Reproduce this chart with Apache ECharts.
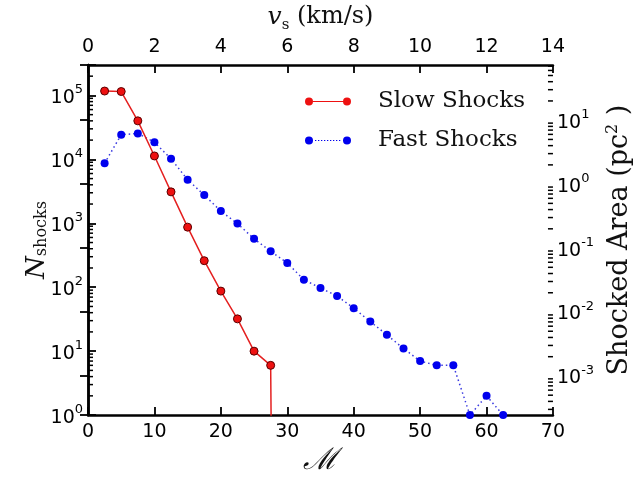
<!DOCTYPE html>
<html>
<head>
<meta charset="utf-8">
<script src="https://cdn.jsdelivr.net/npm/echarts@6/dist/echarts.min.js"></script>
<style>
html, body { margin: 0; padding: 0; background: #fff; }
#chart { width: 641px; height: 481px; }
</style>
</head>
<body>
<div id="chart"></div>
<script>
// Mach number bins and shock counts
var machSlow = [2.5, 5, 7.5, 10, 12.5, 15, 17.5, 20, 22.5, 25, 27.5, 30];
var slowCounts = [117000, 115000, 40000, 11300, 3100, 870, 260, 87, 32, 10, 6, 0];

var machFast = [2.5, 5, 7.5, 10, 12.5, 15, 17.5, 20, 22.5, 25, 27.5, 30, 32.5,
                35, 37.5, 40, 42.5, 45, 47.5, 50, 52.5, 55, 57.5, 60, 62.5];
var fastCounts = [8700, 24300, 25400, 18500, 10200, 4800, 2760, 1550, 990, 571, 365, 239, 131,
                  97, 73, 47, 29, 18, 11, 7, 6, 6, 1, 2, 1];

// axis limits
var machMin = 0, machMax = 70, machStep = 10;
var speedMin = 0, speedMax = 14, speedStep = 2;
var countMin = 1, countMax = 3e5;
var cellArea = 1 / (64 * 64);   // pc^2 per shock, right axis scale

var serif = 'DejaVu Serif';
var sans = 'DejaVu Sans';

function pairs(xs, ys) {
    return xs.map(function (x, i) {
        // a log axis has no zero: push it far below the floor so the line drops off
        return [x, ys[i] > 0 ? ys[i] : 1e-30];
    });
}

function powerLabel(v) {
    var l = Math.log10(v);
    var e = Math.round(l);
    if (Math.abs(l - e) > 1e-6) return '';
    return '{b|10}{s|' + e + '}';
}

var powerRich = {
    b: { fontFamily: sans, fontSize: 19, color: '#000', lineHeight: 24, verticalAlign: 'bottom' },
    s: { fontFamily: sans, fontSize: 13, color: '#000', lineHeight: 14, verticalAlign: 'top' }
};

// 2..9 x 10^n minor ticks, like matplotlib log axes
function minorValues(lo, hi) {
    var out = [];
    for (var n = -5; n <= 6; n++) {
        for (var k = 2; k <= 9; k++) {
            var v = k * Math.pow(10, n);
            if (v > lo && v < hi) out.push(v);
        }
    }
    return out;
}

function minorTickSeries(values, yIndex, atX, dir) {
    return {
        type: 'custom',
        xAxisIndex: 0,
        yAxisIndex: yIndex,
        silent: true,
        clip: false,
        z: 6,
        data: values.map(function (v) { return [atX, v]; }),
        renderItem: function (params, api) {
            var p = api.coord([api.value(0), api.value(1)]);
            return {
                type: 'line',
                shape: { x1: p[0], y1: p[1], x2: p[0] + dir * 5, y2: p[1] },
                style: { stroke: '#000', lineWidth: 1.5 }
            };
        }
    };
}

function circlePath(cx, cy, r) {
    return 'M' + (cx - r) + ',' + cy + 'a' + r + ',' + r + ' 0 1,0 ' + (2 * r) + ',0' +
           'a' + r + ',' + r + ' 0 1,0 ' + (-2 * r) + ',0Z';
}
var slowIcon = 'path://' + circlePath(4, 4, 4) + 'M8,3.4L38,3.4L38,4.6L8,4.6Z' + circlePath(42, 4, 4);
var fastIcon = 'path://' + circlePath(4, 4, 4);
for (var d = 10; d < 37; d += 3) {
    fastIcon += 'M' + d + ',3.4L' + (d + 1.3) + ',3.4L' + (d + 1.3) + ',4.6L' + d + ',4.6Z';
}
fastIcon += circlePath(42, 4, 4);

var frameLine = { show: true, lineStyle: { color: '#000', width: 2.5 } };
var majorTick = { show: true, inside: true, length: 8, lineStyle: { color: '#000', width: 1.8 } };

var option = {
    animation: false,
    backgroundColor: '#fff',
    grid: { left: 88, right: 88, top: 64, bottom: 60 },
    legend: {
        data: [
            { name: 'Slow Shocks', icon: slowIcon },
            { name: 'Fast Shocks', icon: fastIcon }
        ],
        orient: 'vertical',
        left: 300,
        top: 84,
        itemWidth: 46,
        itemHeight: 8,
        itemGap: 14,
        itemStyle: { borderWidth: 0 },
        textStyle: { fontFamily: serif, fontSize: 23, color: '#111', lineHeight: 25, padding: [0, 0, 0, 22] }
    },
    xAxis: [
        {
            type: 'value', position: 'bottom',
            min: machMin, max: machMax, interval: machStep,
            name: '\u2133', nameLocation: 'middle', nameGap: 30,
            nameTextStyle: { fontFamily: serif, fontSize: 30, fontStyle: 'italic', color: '#111' },
            axisLine: frameLine, axisTick: majorTick,
            axisLabel: { fontFamily: sans, fontSize: 19, color: '#000', margin: 7 },
            splitLine: { show: false }
        },
        {
            type: 'value', position: 'top',
            min: speedMin, max: speedMax, interval: speedStep,
            name: '{v|v}{s|s}{t| (km/s)}', nameLocation: 'middle', nameGap: 28,
            nameTextStyle: {
                rich: {
                    v: { fontFamily: serif, fontStyle: 'italic', fontSize: 25, color: '#111', lineHeight: 28, verticalAlign: 'top' },
                    s: { fontFamily: serif, fontSize: 15, color: '#111', lineHeight: 15, verticalAlign: 'bottom' },
                    t: { fontFamily: serif, fontSize: 24, color: '#111', lineHeight: 28, verticalAlign: 'top' }
                }
            },
            axisLine: frameLine, axisTick: majorTick,
            axisLabel: { fontFamily: sans, fontSize: 19, color: '#000', margin: 8 },
            splitLine: { show: false }
        }
    ],
    yAxis: [
        {
            type: 'log', logBase: 10, position: 'left',
            min: countMin, max: countMax,
            name: '{n|N}{s|shocks}', nameLocation: 'middle', nameRotate: 90, nameGap: 38,
            nameMoveOverlap: false,
            nameTextStyle: {
                rich: {
                    n: { fontFamily: serif, fontStyle: 'italic', fontSize: 26, color: '#111', lineHeight: 26, verticalAlign: 'top' },
                    s: { fontFamily: serif, fontSize: 16, color: '#111', lineHeight: 16, verticalAlign: 'bottom' }
                }
            },
            axisLine: frameLine, axisTick: majorTick,
            axisLabel: { formatter: powerLabel, rich: powerRich, margin: 5 },
            splitLine: { show: false }
        },
        {
            type: 'log', logBase: 10, position: 'right',
            min: countMin * cellArea, max: countMax * cellArea,
            name: '{t|Shocked Area (pc}{s|2}{t| )}', nameLocation: 'middle', nameRotate: 90, nameGap: 52,
            nameTextStyle: {
                rich: {
                    t: { fontFamily: serif, fontSize: 27, color: '#111', lineHeight: 28, verticalAlign: 'bottom' },
                    s: { fontFamily: serif, fontSize: 16, color: '#111', lineHeight: 15, verticalAlign: 'top' }
                }
            },
            axisLine: frameLine, axisTick: majorTick,
            axisLabel: { formatter: powerLabel, rich: powerRich, margin: 4 },
            splitLine: { show: false }
        }
    ],
    series: [
        {
            name: 'Fast Shocks',
            type: 'line',
            data: pairs(machFast, fastCounts),
            symbol: 'circle',
            symbolSize: 8,
            z: 3,
            itemStyle: { color: '#0000ee', borderWidth: 0 },
            lineStyle: { color: '#3a3ae0', width: 1.5, type: [1.5, 3] }
        },
        {
            name: 'Slow Shocks',
            type: 'line',
            data: pairs(machSlow, slowCounts),
            symbol: 'circle',
            symbolSize: 8,
            z: 4,
            itemStyle: { color: '#ee1111', borderColor: '#5a0000', borderWidth: 1 },
            lineStyle: { color: '#e42020', width: 1.5 }
        },
        minorTickSeries(minorValues(countMin, countMax), 0, machMin, 1),
        minorTickSeries(minorValues(countMin * cellArea, countMax * cellArea), 1, machMax, -1)
    ]
};

echarts.init(document.getElementById('chart')).setOption(option);
</script>
</body>
</html>
